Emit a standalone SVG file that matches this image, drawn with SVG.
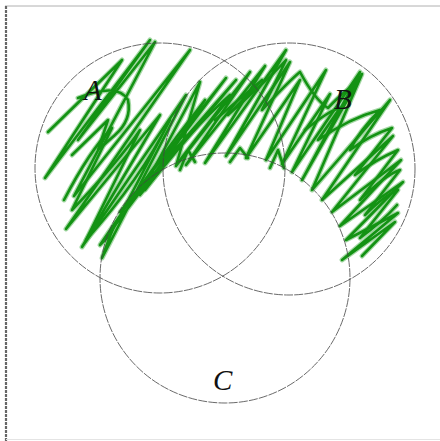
<svg xmlns="http://www.w3.org/2000/svg" width="440" height="441" viewBox="0 0 440 441">
<style>
.circ{fill:none;stroke:#444;stroke-width:0.8;stroke-dasharray:9 1.2}
.lbl{font-family:"Liberation Serif","DejaVu Serif",serif;font-style:italic;font-size:29px;fill:#111}
.halo{fill:none;stroke:#7fc77f;stroke-width:5;stroke-linejoin:round;stroke-linecap:round;opacity:0.7}
.ink{fill:none;stroke:#139213;stroke-width:2.6;stroke-linejoin:round;stroke-linecap:round}
</style>
<defs>
<path id="scr" d="M48,132 L122,60 L45,178 L150,40 L78,140 L155,42 L74,196 L190,50 L66,229 L160,115 L82,247 L186,95 L102,258 L113,228 L226,78 L120,212 L236,80 L140,195 L200,82 L176,166 L250,72 L186,165 L265,66 L205,163 L286,50 L226,156 L290,62 L246,158 L300,80 L266,160 L326,70 L282,164 L330,94 L292,172 L360,72 L302,180 L362,74 L312,190 L390,100 L322,200 L393,136 L332,212 L401,160 L340,226 L403,182 L346,240 L398,213 L342,260 L395,222 L362,256 M78,98 Q118,82 128,100 Q132,120 115,135 L98,150 L108,120 L72,155"/>
<path id="scr2" d="M64,200 Q90,150 112,128 L72,210 Q120,160 140,130 L86,240 Q140,180 170,120 L110,235 L100,245 Q150,170 205,100 L145,190 Q190,130 230,95 L180,160 M215,120 Q250,90 262,80 L228,115 Q270,78 286,60 L262,110 Q290,80 300,72 Q315,100 328,108 Q345,90 355,85 M305,130 Q330,110 340,108 L318,140 Q350,118 380,110 Q360,130 350,150 Q370,135 392,128 L355,175 Q375,160 398,150 L360,200 Q385,175 400,170 L365,215 Q385,195 398,190 L360,238 Q382,222 397,205 M180,170 L188,150 L195,162 M230,162 L240,148 L248,158 M270,168 L278,150 L284,168"/>
</defs>
<g id="frame">
<line x1="5" y1="6" x2="440" y2="6" stroke="#b0b0b0" stroke-width="1"/>
<line x1="6" y1="6" x2="6" y2="441" stroke="#666" stroke-width="2.2" stroke-dasharray="3 1"/>
<line x1="6" y1="439.5" x2="440" y2="439.5" stroke="#e4e4e4" stroke-width="1"/>
</g>
<g id="scribble">
<use href="#scr" class="halo"/>
<use href="#scr2" class="halo"/>
<use href="#scr" class="ink"/>
<use href="#scr2" class="ink"/>
</g>
<g id="circleA"><circle class="circ" cx="160" cy="168" r="125"/><text class="lbl" x="84" y="100">A</text></g>
<g id="circleB"><circle class="circ" cx="289" cy="169" r="126"/><text class="lbl" x="334" y="109">B</text></g>
<g id="circleC"><circle class="circ" cx="225" cy="278" r="125"/><text class="lbl" x="213" y="390">C</text></g>
</svg>
